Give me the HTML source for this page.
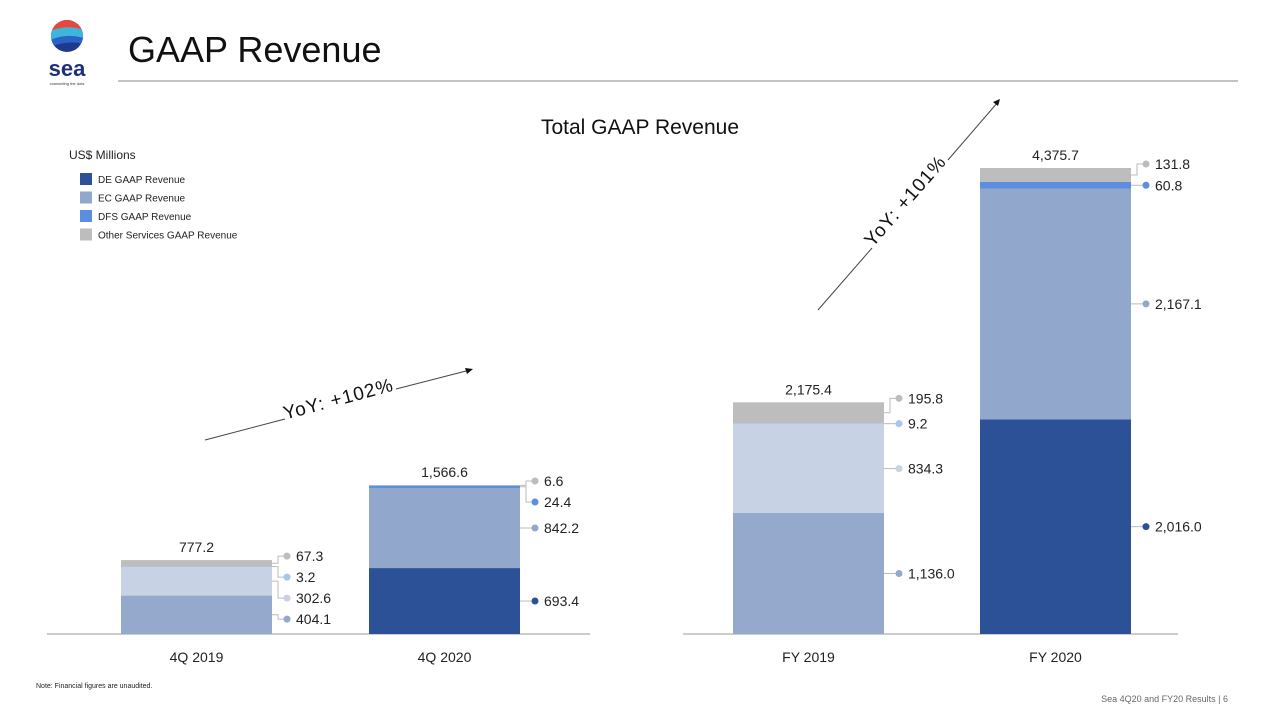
<!DOCTYPE html>
<html><head><meta charset="utf-8"><style>
body{margin:0;width:1280px;height:720px;background:#fff;font-family:"Liberation Sans",sans-serif;overflow:hidden;position:relative}
</style></head><body>
<svg width="1280" height="720" style="position:absolute;left:0;top:0">
  <g>
    <clipPath id="lc"><circle cx="67" cy="36" r="16"/></clipPath>
    <g clip-path="url(#lc)">
      <rect x="50" y="19" width="34" height="34" fill="#1e3a8c"/>
      <path d="M50 19 H84 V32 Q67 26 50 34 Z" fill="#e8483b"/>
      <path d="M50 31 Q67 24 84 30 V40 Q67 34 50 42 Z" fill="#3fb5dc"/>
      <path d="M50 40 Q67 33 84 38 V44 Q67 40 50 47 Z" fill="#2a63c8"/>
    </g>
    <text x="67" y="76" text-anchor="middle" font-size="22" font-weight="bold" fill="#1e2f7a">sea</text>
    <text x="67" y="85" text-anchor="middle" font-size="4" fill="#333">connecting the dots</text>
  </g>
  <text x="128" y="62" font-size="36" fill="#111">GAAP Revenue</text>
  <line x1="118" y1="81" x2="1238" y2="81" stroke="#b0b0b0" stroke-width="1.5"/>
  <text x="640" y="134" text-anchor="middle" font-size="21" fill="#111">Total GAAP Revenue</text>
  <text x="69" y="159" font-size="12" fill="#222">US$ Millions</text>
  <g id="legend"></g>
  <g id="chart"></g>
  <g>
    <line x1="205" y1="440" x2="285" y2="419" stroke="#444" stroke-width="1"/>
    <line x1="396" y1="389" x2="470" y2="370" stroke="#444" stroke-width="1"/>
    <path d="M473 369 l-8 -1 l2 6 Z" fill="#111"/>
    <text x="340" y="405" font-size="19" fill="#111" text-anchor="middle" transform="rotate(-15 340 405)" letter-spacing="1">YoY: +102%</text>
  </g>
  <g>
    <line x1="818" y1="310" x2="872" y2="248" stroke="#444" stroke-width="1"/>
    <line x1="948" y1="160" x2="998" y2="102" stroke="#444" stroke-width="1"/>
    <path d="M1000 99 l-7 3 l5 4 Z" fill="#111"/>
    <text x="910" y="205" font-size="19" fill="#111" text-anchor="middle" transform="rotate(-49 910 205)" letter-spacing="1">YoY: +101%</text>
  </g>
  <text x="36" y="688" font-size="7" fill="#222">Note: Financial figures are unaudited.</text>
  <text x="1228" y="702" font-size="9" fill="#666" text-anchor="end">Sea 4Q20 and FY20 Results |   6</text>
</svg>
<script>
const categories=["4Q 2019","4Q 2020","FY 2019","FY 2020"];
const deValues=[404.1,693.4,1136.0,2016.0];
const ecValues=[302.6,842.2,834.3,2167.1];
const dfsValues=[3.2,24.4,9.2,60.8];
const otherValues=[67.3,6.6,195.8,131.8];
const totals=[777.2,1566.6,2175.4,4375.7];
const deLabels=["404.1","693.4","1,136.0","2,016.0"];
const ecLabels=["302.6","842.2","834.3","2,167.1"];
const dfsLabels=["3.2","24.4","9.2","60.8"];
const otherLabels=["67.3","6.6","195.8","131.8"];
const totalLabels=["777.2","1,566.6","2,175.4","4,375.7"];

const NS="http://www.w3.org/2000/svg";
const g=document.getElementById('chart');
function mk(t,a,p){const e=document.createElementNS(NS,t);for(const k in a)e.setAttribute(k,a[k]);(p||g).appendChild(e);return e;}
const base=634;
const panelScale=[0.0951,0.0951,0.1065,0.1065];
const barX=[121,369,733,980];
const barW=151;
function yScale(i,v){return base-v*panelScale[i];}
const pal20=["#2c5197","#91a7cb","#5b8de0","#bdbdbd"];
const pal19=["#94a9cc","#c8d2e5","#a9c5ef","#bdbdbd"];
const segNames=["de","ec","dfs","other"];

let ax=mk('line',{x1:47,y1:base,x2:590,y2:base,stroke:'#bbb','stroke-width':1.5});


ax=mk('line',{x1:683,y1:base,x2:1178,y2:base,stroke:'#bbb','stroke-width':1.5});



categories.forEach((c,i)=>{
  const vals=[deValues[i],ecValues[i],dfsValues[i],otherValues[i]];
  const labs=[deLabels[i],ecLabels[i],dfsLabels[i],otherLabels[i]];
  const pal=(i%2===0)?pal19:pal20;
  let cum=0;const mids=[];
  vals.forEach((v,k)=>{
    const y0=yScale(i,cum),y1=yScale(i,cum+v);
    const r=mk('rect',{x:barX[i],y:y1,width:barW,height:Math.max(y0-y1,0.5),fill:pal[k]});
    
    
    mids.push((y0+y1)/2);cum+=v;
  });
  const top=yScale(i,cum);
  const tl=mk('text',{x:barX[i]+barW/2,y:top-8,'text-anchor':'middle','font-size':14,fill:'#222'});
  tl.textContent=totalLabels[i];
  
  
  const ys=[];let prev=null;
  for(let k=3;k>=0;k--){
    let y=(k===3)?top-4:Math.max(mids[k],prev+21);
    ys[k]=y;prev=y;
  }
  const xr=barX[i]+barW;
  for(let k=0;k<4;k++){
    const ly=ys[k];const my=mids[k];
    const ln=mk('polyline',{points:`${xr},${my} ${xr+6},${my} ${xr+6},${ly} ${xr+14},${ly}`,fill:'none',stroke:'#bbb','stroke-width':1});
    
    
    const d=mk('circle',{cx:xr+15,cy:ly,r:3.5,fill:pal[k]});
    
    
    const t=mk('text',{x:xr+24,y:ly+5,'font-size':14,fill:'#222'});
    t.textContent=labs[k];
    
    
  }
  const cl=mk('text',{x:barX[i]+barW/2,y:662,'text-anchor':'middle','font-size':14,fill:'#222'});
  cl.textContent=c;
  
  
});

const lg=document.getElementById('legend');
const legendNames=["DE GAAP Revenue","EC GAAP Revenue","DFS GAAP Revenue","Other Services GAAP Revenue"];
const legendCols=["#2c5197","#91a7cb","#5b8de0","#bdbdbd"];
legendNames.forEach((n,k)=>{
  const y=173+k*18.5;
  const r=mk('rect',{x:80,y:y,width:12,height:12,fill:legendCols[k]},lg);
  
  
  const t=mk('text',{x:98,y:y+10,'font-size':10,fill:'#222'},lg);
  t.textContent=n;
  
  
});
</script>
</body></html>
